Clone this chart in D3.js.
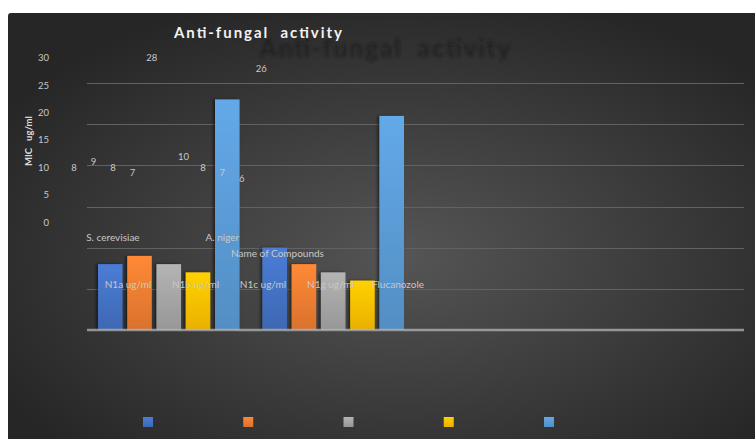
<!doctype html>
<html lang="en">
<head>
<meta charset="utf-8">
<title>Anti-fungal activity</title>
<script src="https://d3js.org/d3.v7.min.js"></script>
<style>
  body { margin: 0; background: #fff; }
  svg { display: block; }
  text { font-family: Lato, "Open Sans", sans-serif; }
</style>
</head>
<body>
<svg id="chart" width="755" height="439"></svg>
<script>
// data
var organisms = ["S. cerevisiae", "A. niger"];
var compounds = ["N1a ug/ml", "N1b ug/ml", "N1c ug/ml", "N1g ug/ml", "Flucanozole"];
var sCerevisiae = [8, 9, 8, 7, 28];
var aNiger = [10, 8, 7, 6, 26];
var yTicks = [0, 5, 10, 15, 20, 25, 30];
var colors = ["#4472C4", "#ED7D31", "#A5A5A5", "#FFC000", "#5B9BD5"];

var values = [sCerevisiae, aNiger];
var rows = [];
organisms.forEach(function(o, i){
  compounds.forEach(function(c, j){ rows.push({org: o, comp: c, i: j, v: values[i][j]}); });
});

var svg = d3.select("#chart");
var defs = svg.append("defs");

var bg = defs.append("radialGradient").attr("id", "bg").attr("cx", "0.52").attr("cy", "0.55").attr("r", "0.62");
bg.append("stop").attr("offset", "0%").attr("stop-color", "#555555");
bg.append("stop").attr("offset", "100%").attr("stop-color", "#262626");

colors.forEach(function(c, i){
  var g = defs.append("linearGradient").attr("id", "g" + i).attr("x1", 0).attr("y1", 0).attr("x2", 0).attr("y2", 1);
  g.append("stop").attr("offset", "0%").attr("stop-color", d3.color(c).brighter(0.25));
  g.append("stop").attr("offset", "100%").attr("stop-color", d3.color(c).darker(0.25));
});

var blur = defs.append("filter").attr("id", "blur").attr("x", "-10%").attr("y", "-50%").attr("width", "120%").attr("height", "200%");
blur.append("feGaussianBlur").attr("stdDeviation", 1.6);
var shadow = defs.append("filter").attr("id", "shadow").attr("x", "-30%").attr("y", "-10%").attr("width", "160%").attr("height", "120%");
shadow.append("feDropShadow").attr("dx", -2).attr("dy", 0).attr("stdDeviation", 1.5).attr("flood-color", "#000").attr("flood-opacity", 0.5);

svg.append("rect").attr("x", 8).attr("y", 13).attr("width", 760).attr("height", 440).attr("rx", 3).attr("fill", "url(#bg)");

// scales for the bars
var x0 = d3.scaleBand().domain(organisms).range([98, 404]).paddingInner(0.139);
var x1 = d3.scaleBand().domain(compounds).range([0, x0.bandwidth()]).paddingInner(0.16);
var y = d3.scaleLinear().domain([0, 30]).range([330, 83]);

// the labels are drawn against a shifted, compressed layout
var xl0 = d3.scaleBand().domain(organisms).range([65.8, 269.5]).paddingInner(0.139);
var xl1 = d3.scaleBand().domain(compounds).range([0, xl0.bandwidth()]).paddingInner(0.16);
var yl = d3.scaleLinear().domain([0, 30]).range([222.3, 58]);
var xs = d3.scalePoint().domain(compounds).range([128, 398]);
var xLeg = d3.scalePoint().domain(compounds).range([148, 549]);

// gridlines
svg.append("g").selectAll("line").data(yTicks.slice(1)).enter().append("line")
  .attr("x1", 87).attr("x2", 744).attr("y1", function(d){ return Math.round(y(d)) + 0.5; }).attr("y2", function(d){ return Math.round(y(d)) + 0.5; })
  .attr("stroke", "#626262").attr("stroke-width", 1);

// bars
svg.append("g").selectAll("rect").data(rows).enter().append("rect")
  .attr("x", function(d){ return x0(d.org) + x1(d.comp); })
  .attr("y", function(d){ return y(d.v); })
  .attr("width", x1.bandwidth())
  .attr("height", function(d){ return y(0) - y(d.v); })
  .attr("fill", function(d){ return "url(#g" + d.i + ")"; })
  .attr("filter", "url(#shadow)");

// baseline
svg.append("line").attr("x1", 87).attr("x2", 744).attr("y1", y(0)).attr("y2", y(0))
  .attr("stroke", "#b4b4b4").attr("stroke-opacity", 0.75).attr("stroke-width", 2.5);

// axis labels (offset)
svg.append("g").selectAll("text").data(yTicks).enter().append("text")
  .attr("x", 49).attr("y", function(d){ return yl(d); }).attr("dy", "0.35em")
  .attr("text-anchor", "end").attr("font-size", 9.5).attr("fill", "#c8c8c8").text(function(d){ return d; });

svg.append("text").attr("transform", "translate(32,141) rotate(-90)").attr("text-anchor", "middle")
  .attr("font-size", 9.5).attr("font-weight", "bold").attr("fill", "#d9d9d9").attr("xml:space", "preserve").text("MIC   ug/ml");

// data labels
svg.append("g").selectAll("text").data(rows).enter().append("text")
  .attr("x", function(d){ return xl0(d.org) + xl1(d.comp) + xl1.bandwidth() / 2; })
  .attr("y", function(d){ return yl(d.v) - 11; }).attr("dy", "0.35em")
  .attr("text-anchor", "middle").attr("font-size", 9.5).attr("fill", "#c8c8c8").text(function(d){ return d.v; });

// category labels
svg.append("g").selectAll("text").data(organisms).enter().append("text")
  .attr("x", function(d){ return xl0(d) + xl0.bandwidth() / 2; }).attr("y", 237).attr("dy", "0.35em")
  .attr("text-anchor", "middle").attr("font-size", 10).attr("fill", "#c8c8c8").text(function(d){ return d; });

svg.append("text").attr("x", 277.5).attr("y", 253).attr("dy", "0.35em").attr("text-anchor", "middle")
  .attr("font-size", 10).attr("fill", "#c8c8c8").text("Name of Compounds");

// series labels
svg.append("g").selectAll("text").data(compounds).enter().append("text")
  .attr("x", function(d){ return xs(d); }).attr("y", 284).attr("dy", "0.35em")
  .attr("text-anchor", "middle").attr("font-size", 10).attr("fill", "#c8c8c8").text(function(d){ return d; });

// legend markers
svg.append("g").selectAll("rect").data(compounds).enter().append("rect")
  .attr("x", function(d){ return xLeg(d) - 5; }).attr("y", 417).attr("width", 10).attr("height", 10)
  .attr("fill", function(d, i){ return "url(#g" + i + ")"; });

// titles
svg.append("text").attr("x", 385).attr("y", 48).attr("dy", "0.35em").attr("text-anchor", "middle")
  .attr("font-size", 25).attr("font-weight", "bold").attr("fill", "#1c1c1c").attr("fill-opacity", 0.85)
  .attr("filter", "url(#blur)").attr("textLength", 251).attr("xml:space", "preserve").text("Anti-fungal  activity");
svg.append("text").attr("x", 258).attr("y", 33).attr("dy", "0.35em").attr("text-anchor", "middle")
  .attr("font-size", 15).attr("font-weight", "bold").attr("fill", "#f2f2f2")
  .attr("textLength", 168).attr("xml:space", "preserve").text("Anti-fungal  activity");
</script>
</body>
</html>
